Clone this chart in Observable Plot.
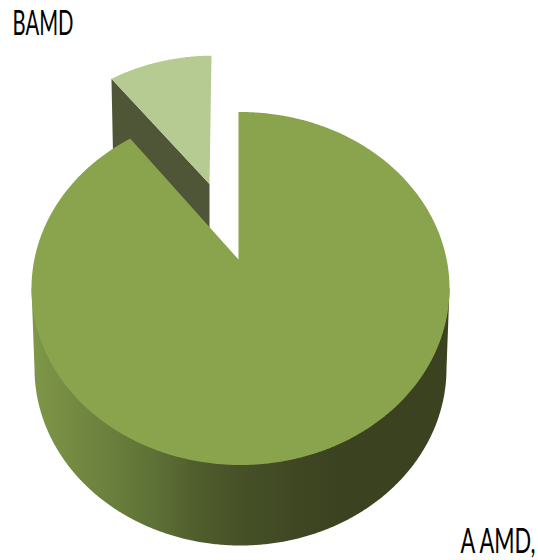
<!DOCTYPE html>
<html>
<head>
<meta charset="utf-8">
<script src="https://cdn.jsdelivr.net/npm/d3@7"></script>
<script src="https://cdn.jsdelivr.net/npm/@observablehq/plot@0.6"></script>
<style>html,body{margin:0;padding:0;background:#fff;overflow:hidden}svg{display:block}</style>
</head>
<body>
<div id="chart"></div>
<script>
const categories = ["A AMD", "BAMD"];
const values = [91.3, 8.7];
const labels = ["BAMD", "A AMD,"];
const faceColors = ["#8aa44e", "#b6cb92"];
const wallColor = "#4f5637";
const shadeStops = [31, 60, 100, 150, 200, 240, 300, 345, 449];
const shadeColors = ["#7f9747", "#778e44", "#6d823e", "#5f7237", "#4f5c2c", "#475128", "#3e4722", "#3a4220", "#3a4220"];

const rad = Math.PI / 180;
const total = d3.sum(values);
const startAngle = -0.55;
const sweepMain = 360 * values[0] / total;

// Projection of the tilted pie onto the picture
const topEllipse = {cx: 240, cy: 288, rx: 209, ry: 176.5};
const bottomEllipse = {cx: 240, cy: 368, rx: 206, ry: 177};
const apex = {x: 238, y: 259};
const onEllipse = (e) => (t) => ({x: e.cx + e.rx * Math.sin(t * rad), y: e.cy - e.ry * Math.cos(t * rad)});
const onFace = onEllipse(topEllipse);

const arcAngles = (a, b) => [...d3.range(a, b, 0.5), b];

const mainFace = [apex, ...arcAngles(startAngle, startAngle + sweepMain).map(onFace)];

// Exploded slice: the same wedge pushed back and seen smaller
const explodedApex = {x: 209, y: 183.5};
const pushBack = (p) => {
  const dx = p.x - apex.x, dy = p.y - apex.y;
  return {x: explodedApex.x + 0.92 * dx - 0.0156 * 0.87 * dy, y: explodedApex.y + 0.87 * dy};
};
const explodedFace = [explodedApex, ...arcAngles(startAngle + sweepMain, startAngle + 360).map(onFace).map(pushBack)];

const wallDepth = 72;
const cornerL = explodedFace[1];
const explodedWall = [
  cornerL,
  explodedApex,
  {x: explodedApex.x, y: explodedApex.y + wallDepth},
  {x: cornerL.x + 1.5, y: cornerL.y + wallDepth}
];

// Rim of the main slice: silhouette filled with a horizontal shade
const rimOutline = [
  {x: topEllipse.cx + topEllipse.rx, y: topEllipse.cy},
  ...arcAngles(90, 270).map(onEllipse(bottomEllipse)),
  {x: topEllipse.cx - topEllipse.rx, y: topEllipse.cy}
];
const rimGradient = () => {
  const defs = d3.create("svg:defs");
  const g = defs.append("linearGradient")
    .attr("id", "rimShade")
    .attr("gradientUnits", "userSpaceOnUse")
    .attr("x1", shadeStops[0]).attr("x2", shadeStops[shadeStops.length - 1])
    .attr("y1", 0).attr("y2", 0);
  const span = shadeStops[shadeStops.length - 1] - shadeStops[0];
  shadeStops.forEach((s, i) => {
    g.append("stop").attr("offset", (s - shadeStops[0]) / span).attr("stop-color", shadeColors[i]);
  });
  return defs.node();
};

const textRows = [
  {label: labels[0], x: 12, y: 34, fit: 61},
  {label: labels[1], x: 460, y: 552.5, fit: 75}
];

const plot = Plot.plot({
  width: 538,
  height: 560,
  margin: 0,
  x: {axis: null, domain: [0, 538]},
  y: {axis: null, domain: [560, 0]},
  marks: [
    rimGradient,
    Plot.line(rimOutline, {x: "x", y: "y", fill: "url(#rimShade)", stroke: "none"}),
    Plot.line(explodedWall, {x: "x", y: "y", fill: wallColor, stroke: "none"}),
    Plot.line(explodedFace, {x: "x", y: "y", fill: faceColors[1], stroke: "none"}),
    Plot.line(mainFace, {x: "x", y: "y", fill: faceColors[0], stroke: "none"}),
    Plot.text(textRows, {
      x: "x", y: "y", text: "label", textAnchor: "start", lineAnchor: "bottom",
      fontSize: 35, fontFamily: "Lato", fill: "#000"
    })
  ]
});

document.getElementById("chart").append(plot);

// Squeeze the labels horizontally to the reference's condensed look
d3.select(plot).selectAll("text").each(function () {
  const r = textRows.find((d) => d.label === this.textContent);
  if (!r) return;
  const sx = r.fit / this.getComputedTextLength();
  const el = d3.select(this);
  el.attr("transform", `${el.attr("transform") || ""} scale(${sx},1)`);
});
</script>
</body>
</html>
